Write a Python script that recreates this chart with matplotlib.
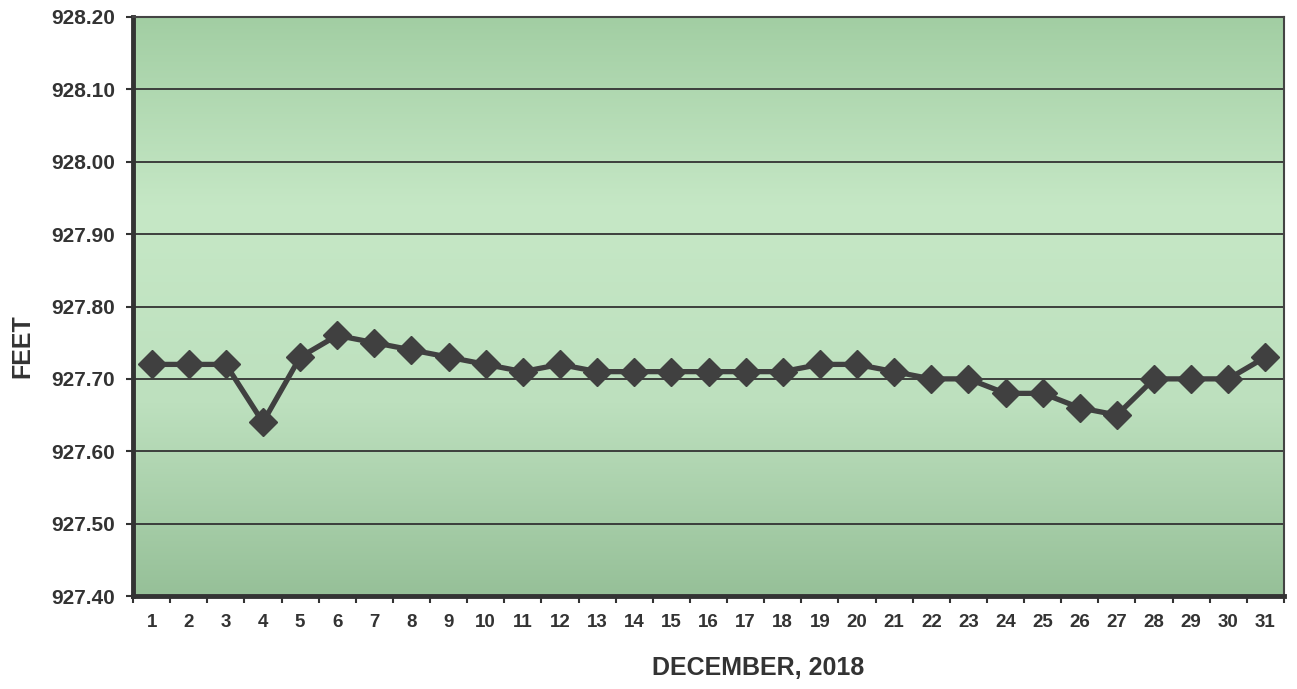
import numpy as np
import matplotlib.pyplot as plt
from matplotlib.colors import LinearSegmentedColormap

plt.rcParams['font.family'] = ['Liberation Sans', 'DejaVu Sans']

days = list(range(1, 32))
feet = [927.72, 927.72, 927.72, 927.64, 927.73, 927.76, 927.75, 927.74,
        927.73, 927.72, 927.71, 927.72, 927.71, 927.71, 927.71, 927.71,
        927.71, 927.71, 927.72, 927.72, 927.71, 927.70, 927.70, 927.68,
        927.68, 927.66, 927.65, 927.70, 927.70, 927.70, 927.73]
yticks = [927.40, 927.50, 927.60, 927.70, 927.80, 927.90, 928.00, 928.10, 928.20]

W, H = 1297, 689
fig = plt.figure(figsize=(W / 100, H / 100), dpi=100)
ax = fig.add_axes([133 / W, 1 - 596 / H, (1284 - 133) / W, (596 - 17) / H])

# green gradient background, darker at top and bottom
cmap = LinearSegmentedColormap.from_list('bg', ['#96c098', '#bde0be', '#c6e8c6', '#a2cea3'])
grad = np.linspace(0, 1, 256).reshape(-1, 1)
ax.imshow(grad, cmap=cmap, aspect='auto', extent=[0.5, 31.5, 927.40, 928.20],
          origin='lower', zorder=0)

for y in yticks[1:-1]:
    ax.axhline(y, color='#333333', lw=1.3, zorder=1)

ax.plot(days, feet, color='#404040', lw=3.8, marker='D', ms=14, zorder=3)

ax.set_xlim(0.5, 31.5)
ax.set_ylim(927.40, 928.20)
ax.set_yticks(yticks)
ax.set_yticklabels(['%.2f' % v for v in yticks], fontsize=15, fontweight='bold', color='#333333')
ax.set_xticks(days)
ax.set_xticklabels([str(d) for d in days], fontsize=13.5, fontweight='bold', color='#333333')
ax.set_xticks(np.arange(0.5, 32, 1), minor=True)
ax.tick_params(axis='x', which='major', length=0, pad=13)
ax.tick_params(axis='x', which='minor', length=5, width=1.5, color='#333333', direction='out')
ax.tick_params(axis='y', length=5, width=1.5, color='#333333', direction='out', pad=8)

for side in ['left', 'bottom']:
    ax.spines[side].set_linewidth(3.5)
    ax.spines[side].set_color('#333333')
for side in ['right', 'top']:
    ax.spines[side].set_linewidth(1.5)
    ax.spines[side].set_color('#444444')

fig.text(758 / W, 1 - 668 / H, 'DECEMBER, 2018', fontsize=18, fontweight='bold',
         color='#333333', ha='center', va='center')
fig.text(22 / W, 1 - 346 / H, 'FEET', fontsize=18, fontweight='bold',
         color='#333333', ha='center', va='center', rotation=90)

fig.savefig('out.png', dpi=100)
